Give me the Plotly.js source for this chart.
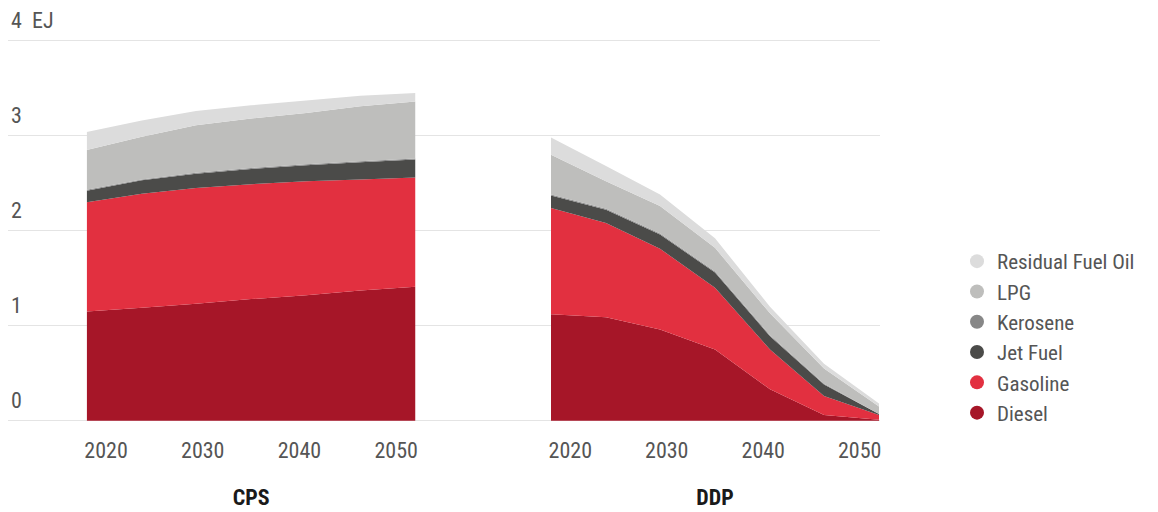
<!DOCTYPE html>
<html>
<head>
<meta charset="utf-8">
<script src="https://cdn.plot.ly/plotly-3.0.1.min.js"></script>
<style>html,body{margin:0;padding:0;background:#fff;}#chart{width:1158px;height:512px;}</style>
</head>
<body>
<div id="chart"></div>
<script>
// Years of the data points (both scenarios)
const years = [2018, 2023.7, 2029.3, 2035, 2040.7, 2046.3, 2052];
const tickYears = [2020, 2030, 2040, 2050];
const yTickVals = [0, 1, 2, 3, 4];
const yTickText = ['0', '1', '2', '3', '4\u00a0\u00a0EJ'];

// Fuel names, bottom to top of the stack
const fuels = ['Diesel', 'Gasoline', 'Jet Fuel', 'Kerosene', 'LPG', 'Residual Fuel Oil'];
const fuelColors = ['#a61628', '#e23040', '#4b4b49', '#878787', '#bebebc', '#dcdcdc'];

// CPS scenario (EJ)
const cpsDiesel   = [1.15, 1.19, 1.23, 1.28, 1.32, 1.37, 1.41];
const cpsGasoline = [1.15, 1.20, 1.22, 1.21, 1.20, 1.17, 1.15];
const cpsJetFuel  = [0.12, 0.14, 0.15, 0.16, 0.17, 0.18, 0.19];
const cpsKerosene = [0.01, 0.01, 0.01, 0.01, 0.01, 0.01, 0.01];
const cpsLPG      = [0.42, 0.45, 0.50, 0.52, 0.54, 0.58, 0.60];
const cpsResidual = [0.19, 0.17, 0.15, 0.14, 0.13, 0.11, 0.09];

// DDP scenario (EJ)
const ddpDiesel   = [1.12, 1.09, 0.96, 0.75, 0.33, 0.06, 0.01];
const ddpGasoline = [1.12, 0.99, 0.85, 0.65, 0.42, 0.20, 0.05];
const ddpJetFuel  = [0.13, 0.14, 0.15, 0.16, 0.14, 0.12, 0.01];
const ddpKerosene = [0.01, 0.01, 0.01, 0.01, 0.01, 0.01, 0.00];
const ddpLPG      = [0.42, 0.29, 0.29, 0.25, 0.23, 0.16, 0.08];
const ddpResidual = [0.18, 0.16, 0.12, 0.10, 0.07, 0.05, 0.03];

const cpsSeries = [cpsDiesel, cpsGasoline, cpsJetFuel, cpsKerosene, cpsLPG, cpsResidual];
const ddpSeries = [ddpDiesel, ddpGasoline, ddpJetFuel, ddpKerosene, ddpLPG, ddpResidual];

const FONT = '"Roboto Condensed", "Liberation Sans Narrow", Roboto, sans-serif';
const traces = [];

function addScenario(series, xa, group) {
  series.forEach((vals, i) => {
    traces.push({
      type: 'scatter', x: years, y: vals, xaxis: xa, yaxis: 'y',
      stackgroup: group, mode: 'none', fillcolor: fuelColors[i],
      line: {width: 0}, name: fuels[i], showlegend: false, hoverinfo: 'x+y+name'
    });
  });
}
addScenario(cpsSeries, 'x2', 'cps');
addScenario(ddpSeries, 'x3', 'ddp');

// Legend entries (circle markers)
fuels.forEach((f, i) => {
  traces.push({
    type: 'scatter', x: [null], y: [null], xaxis: 'x', yaxis: 'y',
    mode: 'markers', marker: {color: fuelColors[i], size: 14, symbol: 'circle'},
    name: f, showlegend: true
  });
});

const W = 1158, H = 512;
const PX_PER_EJ = 95;
const Y_MIN = -0.05, Y_MAX = 4.4;
const Y0_PX = 420.7;
const yBottom = (H - (Y0_PX - Y_MIN * PX_PER_EJ)) / H;
const yTop = (H - (Y0_PX - Y_MAX * PX_PER_EJ)) / H;

const layout = {
  width: W, height: H, autosize: false,
  margin: {l: 0, r: 0, t: 0, b: 0},
  paper_bgcolor: '#ffffff', plot_bgcolor: 'rgba(0,0,0,0)',
  font: {family: FONT, size: 22, color: '#555555'},
  showlegend: true,
  legend: {
    x: 957 / W, xanchor: 'left', y: (H - 337) / H, yanchor: 'middle',
    traceorder: 'reversed', font: {family: FONT, size: 21, color: '#555555'},
    bgcolor: 'rgba(0,0,0,0)', itemclick: false
  },
  xaxis: {domain: [8 / W, 880 / W], range: [0, 1], visible: false, anchor: 'y', fixedrange: true},
  yaxis: {
    domain: [yBottom, yTop], range: [Y_MIN, Y_MAX], anchor: 'x',
    tickvals: yTickVals, ticktext: yTickText,
    showgrid: true, gridcolor: '#e4e4e4', gridwidth: 1.5,
    zeroline: false, showline: false, ticks: '',
    ticklabelposition: 'inside top', ticklabelshift: -5,
    tickfont: {family: FONT, size: 22, color: '#555555'}, fixedrange: true
  },
  xaxis2: {
    domain: [86.7 / W, 415.5 / W], range: [2018, 2052], anchor: 'y',
    tickvals: tickYears, ticktext: tickYears.map(String),
    showgrid: false, zeroline: false, showline: false, ticks: '',
    ticklabelstandoff: 10,
    tickfont: {family: FONT, size: 22, color: '#555555'},
    title: {text: '<b>CPS</b>', standoff: 27, font: {family: FONT, size: 22, color: '#1a1a1a'}},
    fixedrange: true
  },
  xaxis3: {
    domain: [551 / W, 879 / W], range: [2018, 2052], anchor: 'y',
    tickvals: tickYears, ticktext: tickYears.map(String),
    showgrid: false, zeroline: false, showline: false, ticks: '',
    ticklabelstandoff: 10,
    tickfont: {family: FONT, size: 22, color: '#555555'},
    title: {text: '<b>DDP</b>', standoff: 27, font: {family: FONT, size: 22, color: '#1a1a1a'}},
    fixedrange: true
  }
};

Plotly.newPlot('chart', traces, layout, {displayModeBar: false, staticPlot: true});
</script>
</body>
</html>
